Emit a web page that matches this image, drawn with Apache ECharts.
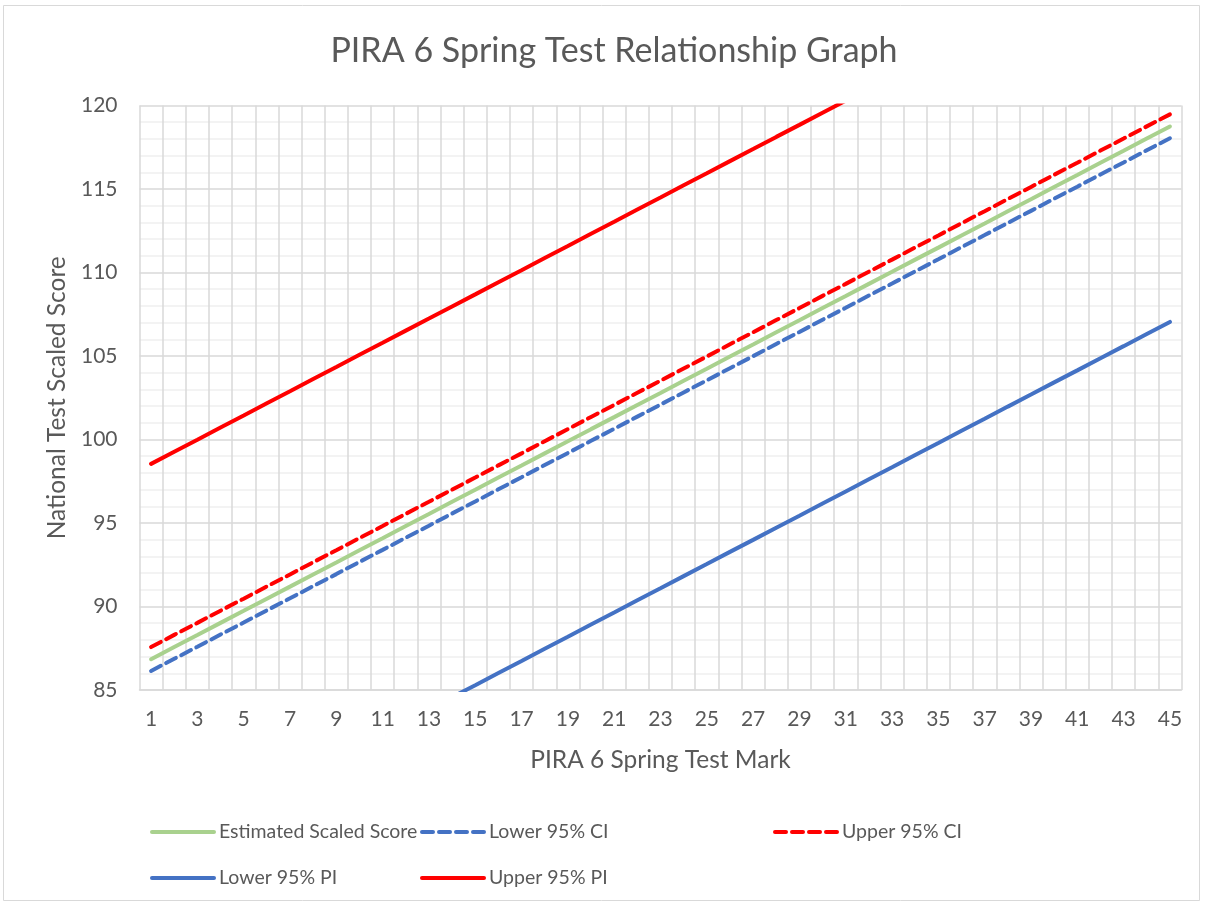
<!DOCTYPE html>
<html>
<head>
<meta charset="utf-8">
<title>PIRA 6 Spring Test Relationship Graph</title>
<script src="https://cdn.jsdelivr.net/npm/echarts@6/dist/echarts.min.js"></script>
<style>
  html, body { margin: 0; padding: 0; background: #fff; }
  #main { width: 1205px; height: 907px; }
</style>
</head>
<body>
<div id="main"></div>
<script>
// test marks 1..45
var marks = [];
for (var m = 1; m <= 45; m++) { marks.push(String(m)); }

var estimated = [
  86.84, 87.57, 88.29, 89.02, 89.74, 90.47, 91.19, 91.92, 92.64, 93.37,
  94.09, 94.82, 95.54, 96.27, 96.99, 97.72, 98.44, 99.17, 99.89, 100.62,
  101.34, 102.07, 102.79, 103.52, 104.24, 104.97, 105.69, 106.42, 107.14, 107.87,
  108.59, 109.32, 110.04, 110.77, 111.49, 112.22, 112.94, 113.67, 114.39, 115.12,
  115.84, 116.57, 117.29, 118.02, 118.74
];
var lowerCI = [
  86.14, 86.87, 87.59, 88.32, 89.04, 89.77, 90.49, 91.22, 91.94, 92.67,
  93.39, 94.12, 94.84, 95.57, 96.29, 97.02, 97.74, 98.47, 99.19, 99.92,
  100.64, 101.37, 102.09, 102.82, 103.54, 104.27, 104.99, 105.72, 106.44, 107.17,
  107.89, 108.62, 109.34, 110.07, 110.79, 111.52, 112.24, 112.97, 113.69, 114.42,
  115.14, 115.87, 116.59, 117.32, 118.04
];
var upperCI = [
  87.57, 88.30, 89.02, 89.75, 90.47, 91.20, 91.92, 92.65, 93.37, 94.10,
  94.82, 95.55, 96.27, 97.00, 97.72, 98.45, 99.17, 99.90, 100.62, 101.35,
  102.07, 102.80, 103.52, 104.25, 104.97, 105.70, 106.42, 107.15, 107.87, 108.60,
  109.32, 110.05, 110.77, 111.50, 112.22, 112.95, 113.67, 114.40, 115.12, 115.85,
  116.57, 117.30, 118.02, 118.75, 119.47
];
var lowerPI = [
  75.14, 75.87, 76.59, 77.32, 78.04, 78.77, 79.49, 80.22, 80.94, 81.67,
  82.39, 83.12, 83.84, 84.57, 85.29, 86.02, 86.74, 87.47, 88.19, 88.92,
  89.64, 90.37, 91.09, 91.82, 92.54, 93.27, 93.99, 94.72, 95.44, 96.17,
  96.89, 97.62, 98.34, 99.07, 99.79, 100.52, 101.24, 101.97, 102.69, 103.42,
  104.14, 104.87, 105.59, 106.32, 107.04
];
var upperPI = [
  98.54, 99.27, 99.99, 100.72, 101.44, 102.17, 102.89, 103.62, 104.34, 105.07,
  105.79, 106.52, 107.24, 107.97, 108.69, 109.42, 110.14, 110.87, 111.59, 112.32,
  113.04, 113.77, 114.49, 115.22, 115.94, 116.67, 117.39, 118.12, 118.84, 119.57,
  120.29, 121.02, 121.74, 122.47, 123.19, 123.92, 124.64, 125.37, 126.09, 126.82,
  127.54, 128.27, 128.99, 129.72, 130.44
];

var font = 'Lato';
var textGrey = '#595959';

var makeLegend = function(name, left, top) {
  return {
    data: [name],
    left: left,
    top: top,
    itemWidth: 62,
    itemHeight: 14,
    itemGap: 5,
    // hide the marker dot, keep only the line
    itemStyle: { opacity: 0 },
    lineStyle: { width: 4, cap: 'round' },
    textStyle: { fontFamily: font, fontSize: 19.5, color: textGrey }
  };
};

var makeLine = function(name, data, color, dashed) {
  return {
    name: name,
    type: 'line',
    data: data,
    symbol: 'none',
    clip: true,
    smooth: false,
    lineStyle: {
      color: color,
      width: 4,
      type: dashed ? [11, 6] : 'solid',
      cap: 'round'
    },
    itemStyle: { color: color }
  };
};

var myChart = echarts.init(document.getElementById('main'));
var option = {
  backgroundColor: '#fff',
  animation: false,
  graphic: [{
    type: 'rect',
    shape: { x: 3.5, y: 5.5, width: 1196, height: 895 },
    style: { fill: 'none', stroke: '#d9d9d9', lineWidth: 1 }
  }],
  title: {
    text: 'PIRA 6 Spring Test Relationship Graph',
    left: 609,
    textAlign: 'center',
    top: 29,
    textStyle: { fontFamily: font, fontSize: 34, fontWeight: 'normal', color: textGrey }
  },
  legend: [
    makeLegend('Estimated Scaled Score', 145, 817),
    makeLegend('Lower 95% CI', 415, 817),
    makeLegend('Upper 95% CI', 768, 817),
    makeLegend('Lower 95% PI', 145, 863),
    makeLegend('Upper 95% PI', 415, 863)
  ],
  grid: {
    left: 139.5,
    right: 23.5,
    top: 105.5,
    bottom: 217,
    containLabel: false
  },
  xAxis: {
    type: 'category',
    data: marks,
    boundaryGap: true,
    name: 'PIRA 6 Spring Test Mark',
    nameLocation: 'middle',
    nameGap: 58,
    nameTextStyle: { fontFamily: font, fontSize: 24.5, color: textGrey },
    axisLine: { show: true, lineStyle: { color: '#d9d9d9', width: 1.5 } },
    axisTick: { show: false },
    axisLabel: {
      interval: 1,
      margin: 19,
      fontFamily: font,
      fontSize: 21,
      color: textGrey
    },
    splitLine: {
      show: true,
      interval: 0,
      lineStyle: { color: '#d9d9d9', width: 1.5 }
    }
  },
  yAxis: {
    type: 'value',
    min: 85,
    max: 120,
    interval: 5,
    name: 'National Test Scaled Score',
    nameLocation: 'middle',
    nameGap: 67,
    nameTextStyle: { fontFamily: font, fontSize: 24.5, color: textGrey },
    axisLine: { show: false },
    axisTick: { show: false },
    axisLabel: {
      margin: 22,
      fontFamily: font,
      fontSize: 21,
      color: textGrey
    },
    splitLine: { show: true, lineStyle: { color: '#d9d9d9', width: 1.5 } },
    minorTick: { show: false, splitNumber: 5 },
    minorSplitLine: { show: true, lineStyle: { color: '#efefef', width: 1.5 } }
  },
  series: [
    makeLine('Estimated Scaled Score', estimated, '#a9d18e', false),
    makeLine('Lower 95% CI', lowerCI, '#4472c4', true),
    makeLine('Upper 95% CI', upperCI, '#ff0000', true),
    makeLine('Lower 95% PI', lowerPI, '#4472c4', false),
    makeLine('Upper 95% PI', upperPI, '#ff0000', false)
  ]
};
myChart.setOption(option);
</script>
</body>
</html>
